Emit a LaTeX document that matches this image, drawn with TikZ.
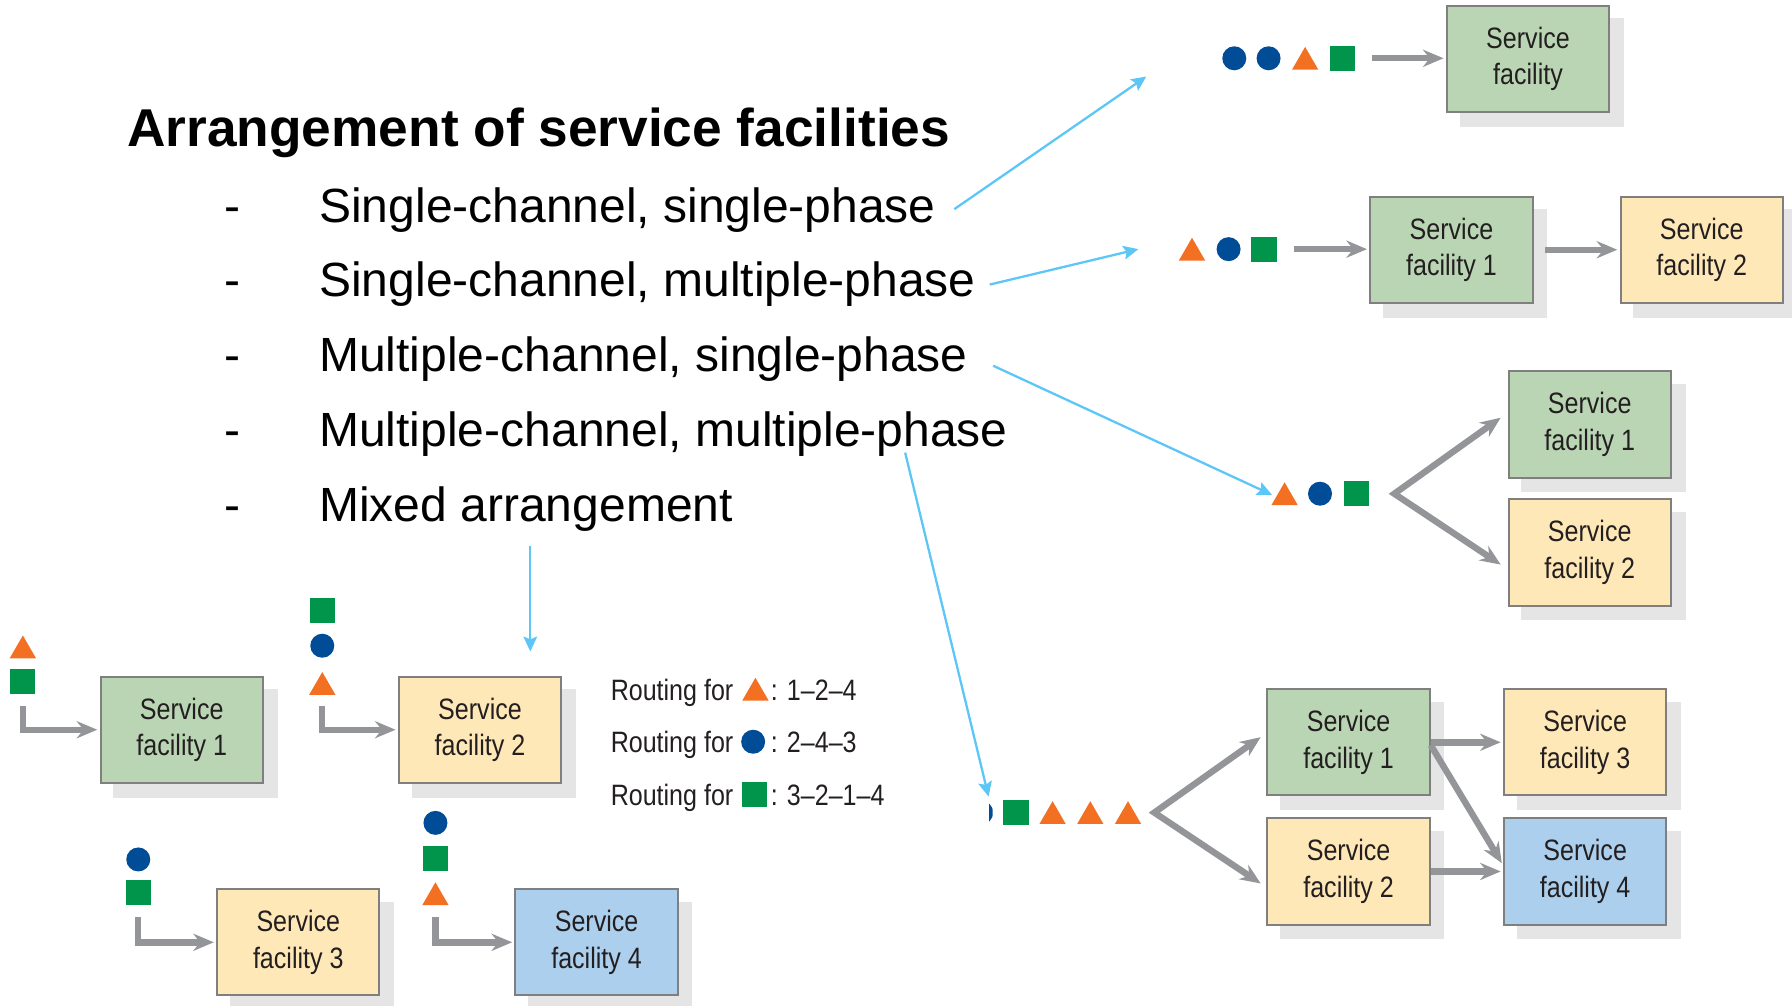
\documentclass[tikz,border=0pt]{standalone}
\usepackage{fontspec}
\setmainfont{Liberation Sans}
\newfontfamily\condfont[FakeStretch=0.85,Ligatures=TeX]{Liberation Sans}
\usetikzlibrary{arrows.meta,shapes.geometric,backgrounds,calc}
\definecolor{boxgreen}{HTML}{BAD5B4}
\definecolor{boxyellow}{HTML}{FFE8B7}
\definecolor{boxblue}{HTML}{ABCFEC}
\definecolor{boxline}{HTML}{7F7F7F}
\definecolor{shadowgray}{HTML}{E5E5E6}
\definecolor{arrowgray}{HTML}{939598}
\definecolor{qblue}{HTML}{004C97}
\definecolor{qorange}{HTML}{F36F21}
\definecolor{qgreen}{HTML}{00954B}
\definecolor{cyanline}{HTML}{5CC6F7}
\definecolor{boxtext}{HTML}{231F20}
\begin{document}
\begin{tikzpicture}[x=0.5pt,y=-0.5pt,
  fac/.style={draw=boxline, line width=0.9pt, minimum width=71pt, minimum height=46.5pt,
    inner sep=0pt, align=center, font=\condfont\fontsize{12.9}{16}\selectfont, text=boxtext},
  facg/.style={fac, fill=boxgreen},
  facy/.style={fac, fill=boxyellow},
  facb/.style={fac, fill=boxblue},
  circ/.style={circle, fill=qblue, minimum size=10.5pt, inner sep=0pt},
  sq/.style={rectangle, fill=qgreen, minimum size=11pt, inner sep=0pt},
  tri/.style={regular polygon, regular polygon sides=3, fill=qorange, minimum size=13.3pt,
    inner sep=0pt, yshift=-1.66pt},
  garrow/.style={draw=arrowgray, line width=2.8pt, line join=miter, shorten >=1pt,
    -{Stealth[length=9pt,width=7.5pt,inset=3pt]}},
  gfork/.style={draw=arrowgray, line width=2.8pt, line join=miter,
    {Stealth[length=9pt,width=7.5pt,inset=3pt]}-{Stealth[length=9pt,width=7.5pt,inset=3pt]}},
  barrow/.style={draw=cyanline, line width=1pt, -{Stealth[length=6.5pt,width=6pt,inset=1.2pt]}},
  titletext/.style={anchor=base west, inner sep=0pt, font=\bfseries\fontsize{23.3}{28}\selectfont},
  itemtext/.style={anchor=base west, inner sep=0pt, font=\fontsize{21}{25}\selectfont},
  rout/.style={anchor=base west, text=boxtext, font=\condfont\fontsize{12.9}{15}\selectfont, inner sep=0pt}
]
\useasboundingbox (0,0) rectangle (1568,880);

% ---- title and list ----
\node[titletext] (title) at (111,128.3) {Arrangement of service facilities};
\node[itemtext] (d1) at (196,194.8) {-};
\node[itemtext] (i1) at (279,194.8) {Single-channel, single-phase};
\node[itemtext] (d2) at (196,259.6) {-};
\node[itemtext] (i2) at (279,259.6) {Single-channel, multiple-phase};
\node[itemtext] (d3) at (196,325.2) {-};
\node[itemtext] (i3) at (279,325.2) {Multiple-channel, single-phase};
\node[itemtext] (d4) at (196,390.8) {-};
\node[itemtext] (i4) at (279,390.8) {Multiple-channel, multiple-phase};
\node[itemtext] (d5) at (196,456.4) {-};
\node[itemtext] (i5) at (279,456.4) {Mixed arrangement};

% ---- single-channel, single-phase ----
\node[circ] (r1c1) at (1080,51) {};
\node[circ] (r1c2) at (1110,51) {};
\node[tri]  (r1t)  at (1142,51) {};
\node[sq]   (r1q)  at (1175,51) {};
\node[facg] (s1) at (1337,51.5) {Service\\facility};
\draw[garrow] ([xshift=7pt]r1q.east) -- (r1q.east -| s1.west);

% ---- single-channel, multiple-phase ----
\node[tri]  (r2t) at (1043,218) {};
\node[circ] (r2c) at (1075,218) {};
\node[sq]   (r2q) at (1106,218) {};
\node[facg] (a1) at (1270,218.5) {Service\\facility 1};
\node[facy] (a2) at (1489,218.5) {Service\\facility 2};
\draw[garrow] ([xshift=7.5pt]r2q.east) -- (r2q.east -| a1.west);
\draw[garrow] ([xshift=5pt]a1.east) -- (a2.west);

% ---- multiple-channel, single-phase ----
\node[tri]  (r3t) at (1124,432) {};
\node[circ] (r3c) at (1155,432) {};
\node[sq]   (r3q) at (1187,432) {};
\node[facg] (b1) at (1391,371.5) {Service\\facility 1};
\node[facy] (b2) at (1391,483.5) {Service\\facility 2};
\coordinate (v3) at (1220,432);
\draw[gfork] ([shift={(-3pt,3pt)}]b1.west) -- (v3) -- ([shift={(-3pt,-5.25pt)}]b2.west);

% ---- multiple-channel, multiple-phase ----
\begin{scope}
  \clip (865.5,698) rectangle (868.5,724);
  \fill[qblue] (858.5,711) circle[radius=5.25pt];
\end{scope}
\node[sq]  (r4q)  at (889,711) {};
\node[tri] (r4t1) at (921,711) {};
\node[tri] (r4t2) at (954,711) {};
\node[tri] (r4t3) at (987,711) {};
\node[facg] (m1) at (1180,649.5) {Service\\facility 1};
\node[facy] (m2) at (1180,762.5) {Service\\facility 2};
\node[facy] (m3) at (1387,649.5) {Service\\facility 3};
\node[facb] (m4) at (1387,762.5) {Service\\facility 4};
\coordinate (v4) at (1010,711);
\draw[gfork] ([shift={(-2.5pt,2.25pt)}]m1.west) -- (v4) -- ([shift={(-2.5pt,-5.25pt)}]m2.west);
\draw[garrow] (m1.east) -- (m3.west);
\draw[garrow] (m2.east) -- (m4.west);
\draw[garrow] ([yshift=-1.25pt]m1.east) -- ([yshift=2.75pt]m4.west);

% ---- mixed arrangement ----
\node[tri] (g1t) at (20,566) {};
\node[sq]  (g1q) at (20,596) {};
\node[facg] (x1) at (159,638.5) {Service\\facility 1};
\draw[garrow] ([yshift=-5pt]g1q.south) |- (x1.west);

\node[sq]   (g2q) at (282,534) {};
\node[circ] (g2c) at (282,565) {};
\node[tri]  (g2t) at (282,598) {};
\node[facy] (x2) at (420,638.5) {Service\\facility 2};
\draw[garrow] ([yshift=-4.5pt]g2t.south) |- (x2.west);

\node[circ] (g3c) at (121,752) {};
\node[sq]   (g3q) at (121,781) {};
\node[facy] (x3) at (261,824.5) {Service\\facility 3};
\draw[garrow] ([yshift=-5pt]g3q.south) |- (x3.west);

\node[circ] (g4c) at (381,720) {};
\node[sq]   (g4q) at (381,751) {};
\node[tri]  (g4t) at (381,782) {};
\node[facb] (x4) at (522,824.5) {Service\\facility 4};
\draw[garrow] ([yshift=-5pt]g4t.south) |- (x4.west);

% ---- routing legend ----
\node[rout] (rt1) at (534,612.5) {Routing for};
\node[tri]  (lt)  at (661,603) {};
\node[rout] (rn1) at (674,612.5) {: 1–2–4};
\node[rout] (rt2) at (534,658.6) {Routing for};
\node[circ] (lc)  at (659,649) {};
\node[rout] (rn2) at (674,658.6) {: 2–4–3};
\node[rout] (rt3) at (534,704.4) {Routing for};
\node[sq]   (lq)  at (660,695) {};
\node[rout] (rn3) at (674,704.4) {: 3–2–1–4};

% ---- shadows ----
\begin{scope}[on background layer]
  \foreach \n in {s1,a1,a2,b1,b2,m1,m2,m3,m4,x1,x2,x3,x4}
    \fill[shadowgray] ([shift={(6pt,-6pt)}]\n.south west) rectangle ([shift={(6pt,-6pt)}]\n.north east);
\end{scope}

% ---- blue pointers ----
\coordinate (p1s) at (835,183);  \coordinate (p1e) at (1003,67);
\coordinate (p2s) at (866,249);  \coordinate (p2e) at (996,218);
\coordinate (p3s) at (869,320);  \coordinate (p3e) at (1113,433);
\coordinate (p4s) at (792,396);  \coordinate (p4e) at (865,697);
\coordinate (p5s) at (464,478);  \coordinate (p5e) at (464,570);
\draw[barrow] (p1s) -- (p1e);
\draw[barrow] (p2s) -- (p2e);
\draw[barrow] (p3s) -- (p3e);
\draw[barrow] (p4s) -- (p4e);
\draw[barrow] (p5s) -- (p5e);
\end{tikzpicture}
\end{document}
